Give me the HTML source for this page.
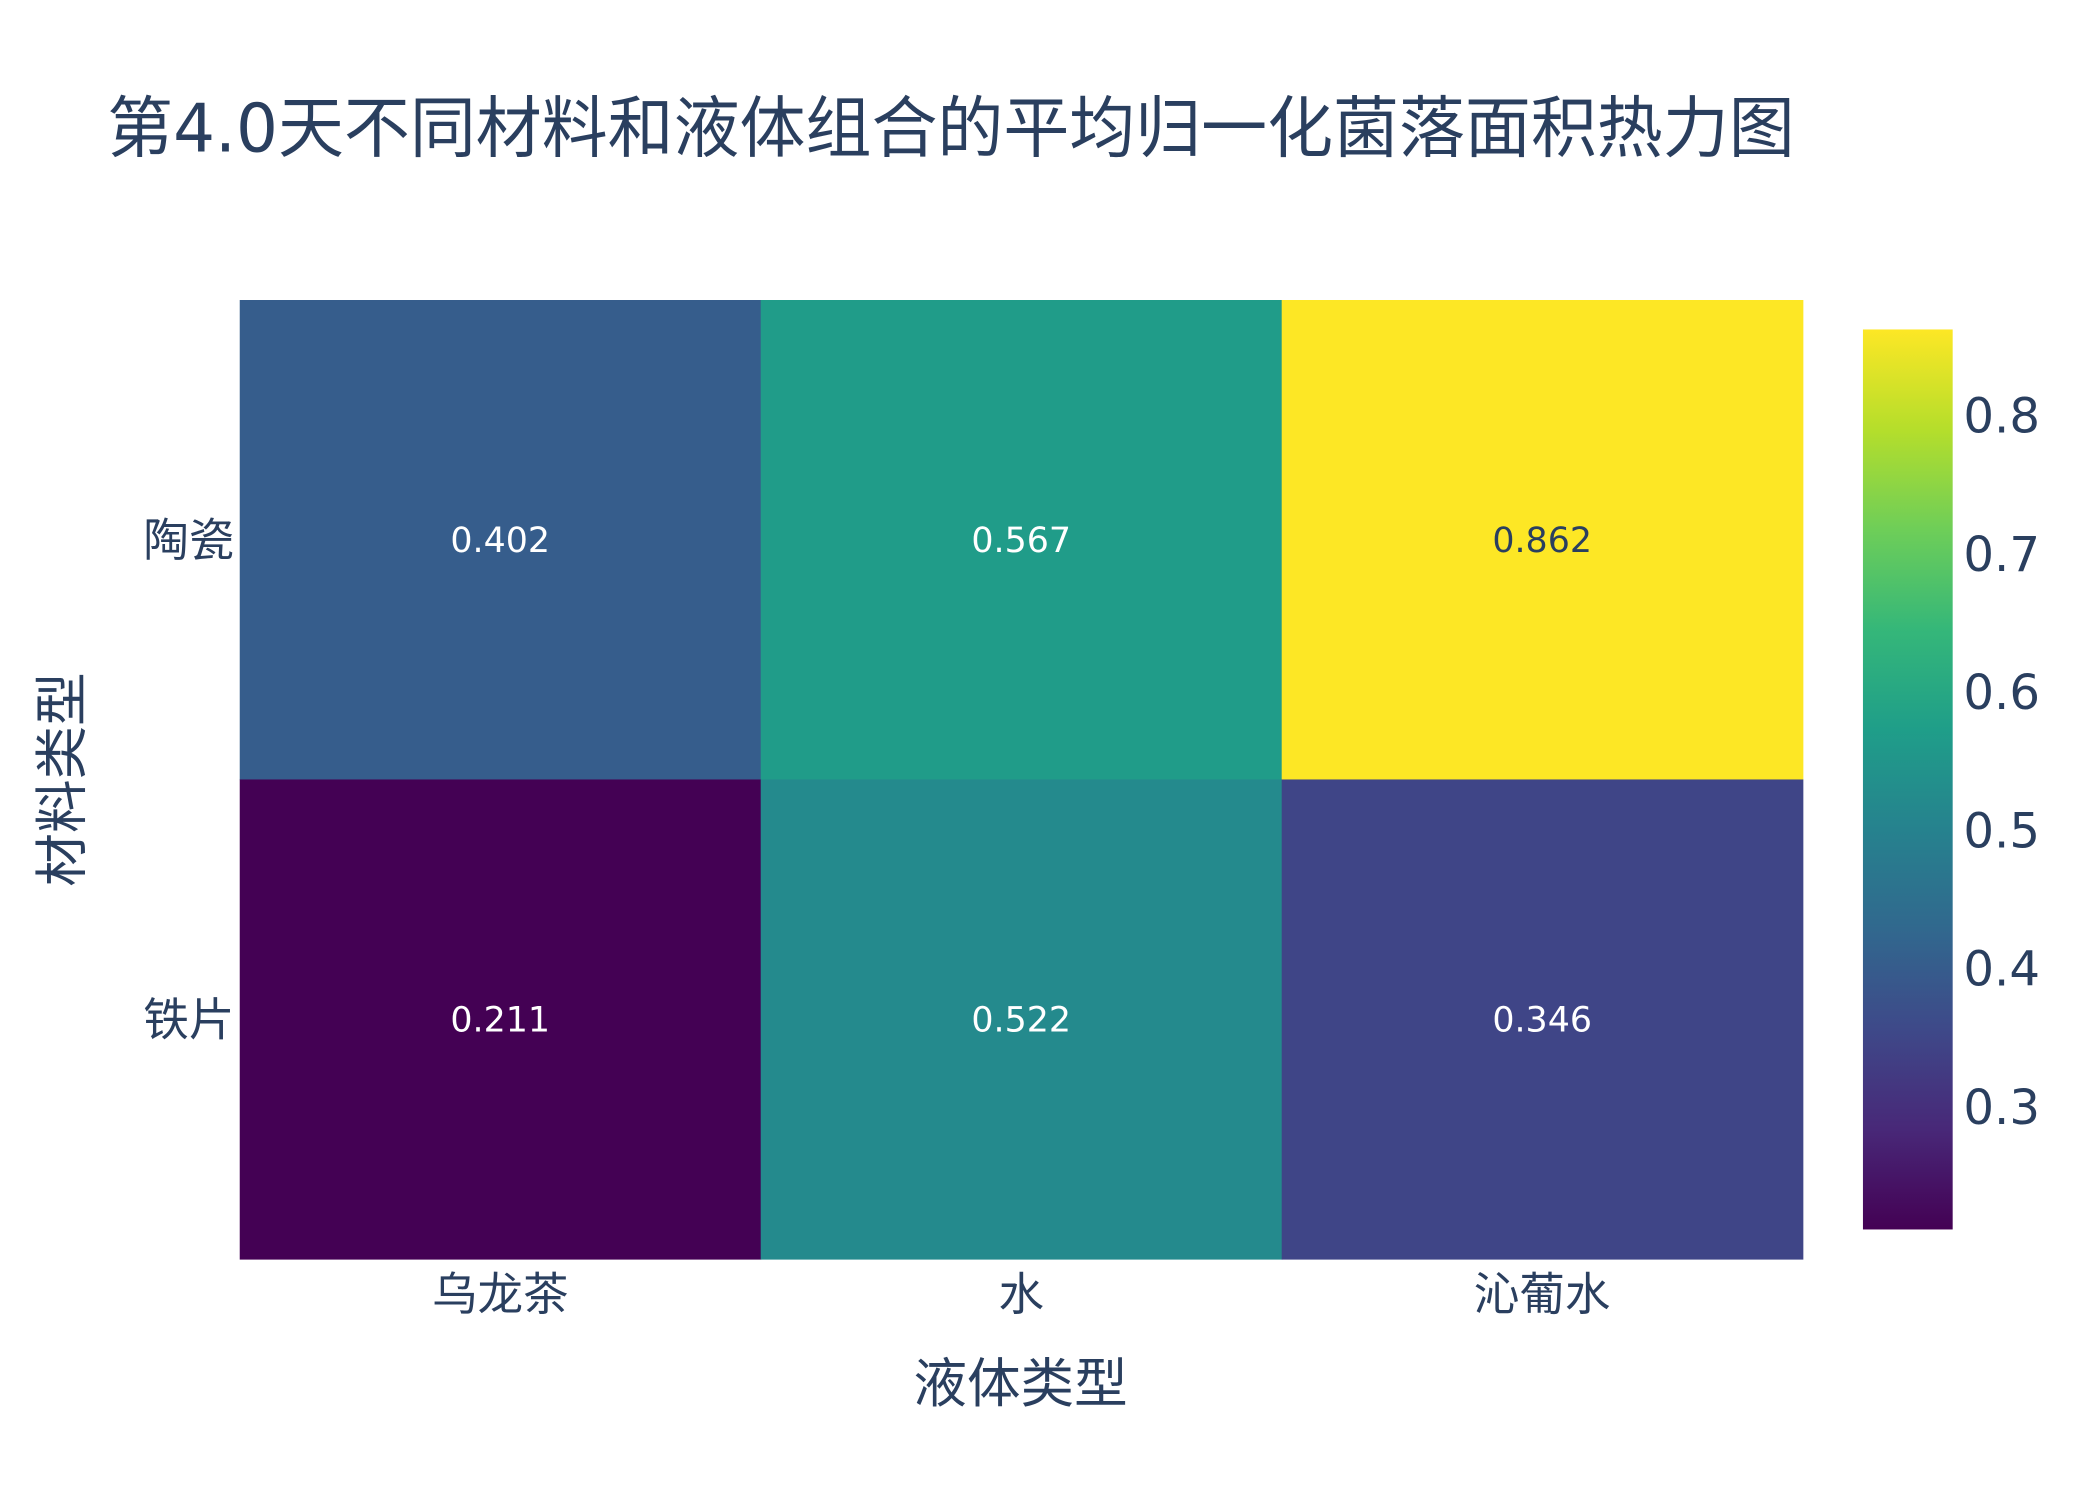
<!DOCTYPE html>
<html><head><meta charset="utf-8">
<style>html,body{margin:0;padding:0;background:#fff}svg{display:block}
text{font-family:"DejaVu Sans","Noto Sans CJK SC",sans-serif;fill:#2a3f5f}</style></head>
<body>
<svg id="chart" width="2100" height="1500" viewBox="0 0 1568 1120" preserveAspectRatio="none" xmlns="http://www.w3.org/2000/svg">
<defs><linearGradient id="vir" x1="0" y1="1" x2="0" y2="0"></linearGradient></defs>
<text x="80" y="113" font-size="50" textLength="1260" lengthAdjust="spacingAndGlyphs">第4.0天不同材料和液体组合的平均归一化菌落面积热力图</text>
<g id="cells"></g>
<g id="xt"></g><g id="yt"></g>
<text x="762" y="1047" font-size="40" text-anchor="middle">液体类型</text>
<text transform="translate(60,582) rotate(-90)" font-size="40" text-anchor="middle">材料类型</text>
<rect x="1391" y="246" width="67" height="672" fill="url(#vir)"/>
<g id="cb"></g>
</svg>
<script>
const xCats=["乌龙茶","水","沁葡水"];
const yCats=["陶瓷","铁片"];
const row0=[0.402,0.567,0.862];
const row1=[0.211,0.522,0.346];
const cbTicks=[0.3,0.4,0.5,0.6,0.7,0.8];
const vir=["#440154","#482878","#3e4989","#31688e","#26828e","#1f9e89","#35b779","#6ece58","#b5de2b","#fde725"];
const NS="http://www.w3.org/2000/svg";
const vals=[row0,row1];
const all=row0.concat(row1),vmin=Math.min(...all),vmax=Math.max(...all);
const X0=179,X1=1346,Y0=224,Y1=940,CB0=918,CB1=246;
const cw=(X1-X0)/xCats.length,rh=(Y1-Y0)/yCats.length;
function hex(h){return [1,3,5].map(i=>parseInt(h.substr(i,2),16));}
function color(v){let t=(v-vmin)/(vmax-vmin);t=Math.max(0,Math.min(1,t));const p=t*(vir.length-1),i=Math.min(Math.floor(p),vir.length-2),f=p-i;const a=hex(vir[i]),b=hex(vir[i+1]);return "rgb("+a.map((c,k)=>Math.round(c+(b[k]-c)*f)).join(",")+")";}
function cbY(v){return CB0-(v-vmin)/(vmax-vmin)*(CB0-CB1);}
function mk(tag,at,parent){const e=document.createElementNS(NS,tag);for(const k in at)e.setAttribute(k,at[k]);document.getElementById(parent).appendChild(e);return e;}
const g=document.getElementById("vir");
vir.forEach((c,i)=>{const s=document.createElementNS(NS,"stop");s.setAttribute("offset",i/(vir.length-1));s.setAttribute("stop-color",c);g.appendChild(s);});
vals.forEach((row,r)=>row.forEach((v,c)=>{
 const rc=mk("rect",{x:X0+c*cw,y:Y0+r*rh,width:cw+0.5,height:rh+0.5,fill:color(v)},"cells");
 
 
 const t=mk("text",{x:X0+(c+0.5)*cw,y:Y0+(r+0.5)*rh+9,"font-size":26,"text-anchor":"middle"},"cells");
 
 
 t.style.fill=((v-vmin)/(vmax-vmin)>0.75)?"#2a3f5f":"#ffffff";t.textContent=v.toFixed(3);
}));
xCats.forEach((c,i)=>{const t=mk("text",{x:X0+(i+0.5)*cw,y:978,"font-size":34,"text-anchor":"middle"},"xt");
 
 
 t.textContent=c;});
yCats.forEach((c,i)=>{const t=mk("text",{x:175,y:Y0+(i+0.5)*rh+12,"font-size":34,"text-anchor":"end"},"yt");
 
 
 t.textContent=c;});
cbTicks.forEach(v=>{const t=mk("text",{x:1466,y:cbY(v)+13,"font-size":36},"cb");
 
 
 t.textContent=v.toFixed(1);});
</script>
</body></html>
